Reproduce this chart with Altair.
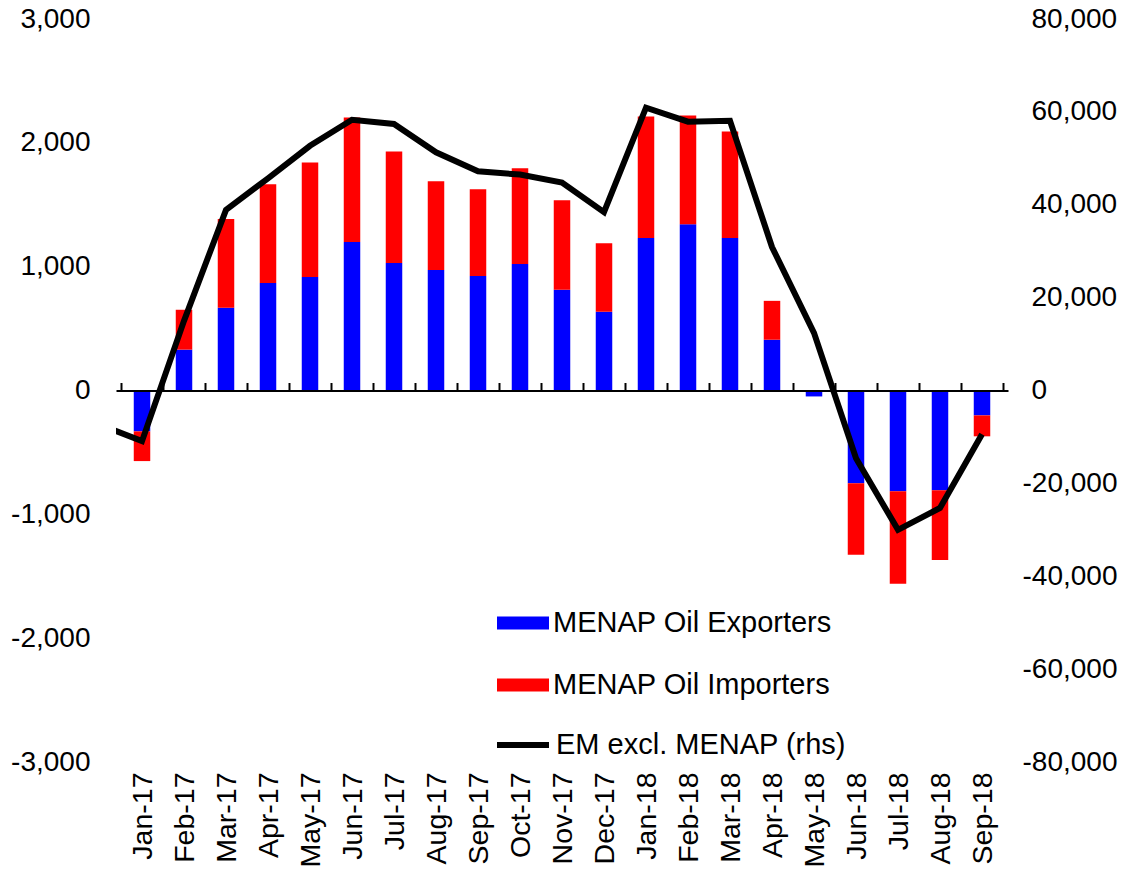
import altair as alt
import pandas as pd

months = ["Jan-17", "Feb-17", "Mar-17", "Apr-17", "May-17", "Jun-17", "Jul-17",
          "Aug-17", "Sep-17", "Oct-17", "Nov-17", "Dec-17", "Jan-18", "Feb-18",
          "Mar-18", "Apr-18", "May-18", "Jun-18", "Jul-18", "Aug-18", "Sep-18"]
exporters = [-330, 330, 668, 869, 917, 1199, 1030, 973, 925, 1022, 813, 636,
             1231, 1343, 1231, 410, -48, -748, -813, -805, -201]
importers = [-240, 322, 716, 796, 925, 1005, 901, 717, 700, 772, 724, 554,
             981, 877, 861, 314, 0, -579, -748, -563, -169]
# line starts one month before the first bar (clipped at the plot edge)
em_months = ["Dec-16"] + months
em_values = [-7400, -10900, 15000, 38900, 45700, 52700, 58300, 57400, 51300,
             47200, 46500, 44800, 38400, 60900, 57900, 58100, 30900, 12400,
             -14600, -30000, -25300, -9400]

series_names = ["MENAP Oil Exporters", "MENAP Oil Importers"]
line_name = "EM excl. MENAP (rhs)"
left_ticks = [-3000, -2000, -1000, 0, 1000, 2000, 3000]
right_ticks = [-80000, -60000, -40000, -20000, 0, 20000, 40000, 60000, 80000]

rows = []
for i, m in enumerate(months):
    rows.append({"idx": i, "month": m, "series": series_names[0], "ord": 0, "value": exporters[i]})
    rows.append({"idx": i, "month": m, "series": series_names[1], "ord": 1, "value": importers[i]})
bars_df = pd.DataFrame(rows)
line_df = pd.DataFrame({"idx": list(range(-1, len(months))), "month": em_months,
                        "value": em_values, "series": line_name})

FONT = "Liberation Sans"
W, H = 892, 743
ZERO_OFFSET = -(H / 2)

xscale = alt.Scale(domain=[-0.5, len(months) - 0.5], nice=False, zero=False)
label_expr = "[" + ",".join(f"'{m}'" for m in months) + "][round(datum.value)]"
num_expr = "replace(format(datum.value, ',.0f'), '\u2212', '-')"

bars = alt.Chart(bars_df).mark_bar(size=16.5).encode(
    x=alt.X("idx:Q", scale=xscale,
            axis=alt.Axis(title=None, values=list(range(len(months))), labelExpr=label_expr,
                          labelAngle=270, labelAlign="right", labelBaseline="middle",
                          labelPadding=10, labelFontSize=28.5, labelFont=FONT, labelColor="black",
                          labelFlush=False, labelOverlap=False, domain=False, ticks=False, grid=False)),
    y=alt.Y("value:Q", stack="zero", scale=alt.Scale(domain=[-3000, 3000], nice=False),
            axis=alt.Axis(title=None, orient="left", values=left_ticks, labelExpr=num_expr,
                          labelAlign="right", labelPadding=26, labelFontSize=28, labelFont=FONT,
                          labelColor="black", labelFlush=False, labelOverlap=False,
                          domain=False, ticks=False, grid=False)),
    color=alt.Color("series:N", scale=alt.Scale(domain=series_names, range=["#0000FF", "#FF0000"]),
                    legend=alt.Legend(title=None, orient="none", legendX=381, legendY=578,
                                      symbolType="M-1,-0.25L1,-0.25L1,0.25L-1,0.25Z",
                                      symbolSize=2704, symbolStrokeWidth=0, symbolOpacity=1,
                                      labelFontSize=29, labelFont=FONT, labelColor="black",
                                      labelOffset=4, labelLimit=0, rowPadding=21)),
    order=alt.Order("ord:Q"),
)

line = alt.Chart(line_df).mark_line(strokeWidth=6, clip=True, strokeJoin="miter").encode(
    x=alt.X("idx:Q", scale=xscale,
            axis=alt.Axis(title=None, orient="top", offset=ZERO_OFFSET,
                          values=[i - 0.5 for i in range(len(months) + 1)],
                          labels=False, domain=True, domainColor="black", domainWidth=2,
                          ticks=True, tickSize=8, tickWidth=2, tickColor="black",
                          grid=False, zindex=1)),
    y=alt.Y("value:Q", scale=alt.Scale(domain=[-80000, 80000], nice=False),
            axis=alt.Axis(title=None, orient="right", values=right_ticks, labelExpr=num_expr,
                          labelAlign="left",
                          labelPadding={"condition": {"test": "datum.value < 0", "value": 14}, "value": 23},
                          labelFontSize=28, labelFont=FONT,
                          labelColor="black", labelFlush=False, labelOverlap=False,
                          domain=False, ticks=False, grid=False)),
    stroke=alt.Stroke("series:N", scale=alt.Scale(domain=[line_name], range=["#000000"]),
                      legend=alt.Legend(title=None, orient="none", legendX=378, legendY=697,
                                        symbolType="stroke", symbolSize=2704,
                                        symbolStrokeWidth=6, symbolStrokeColor="black",
                                        labelFontSize=29, labelFont=FONT, labelColor="black",
                                        labelOffset=4, labelLimit=0)),
)

chart = alt.layer(bars, line).resolve_scale(
    y="independent", color="independent"
).resolve_axis(x="independent").properties(
    width=W, height=H,
    padding={"left": 108, "top": 11, "right": 115, "bottom": 106},
    autosize=alt.AutoSizeParams(type="none"),
).configure(background="white").configure_view(stroke=None, strokeWidth=0)

chart.save("out.html", embed_options={"renderer": "svg", "actions": False})
